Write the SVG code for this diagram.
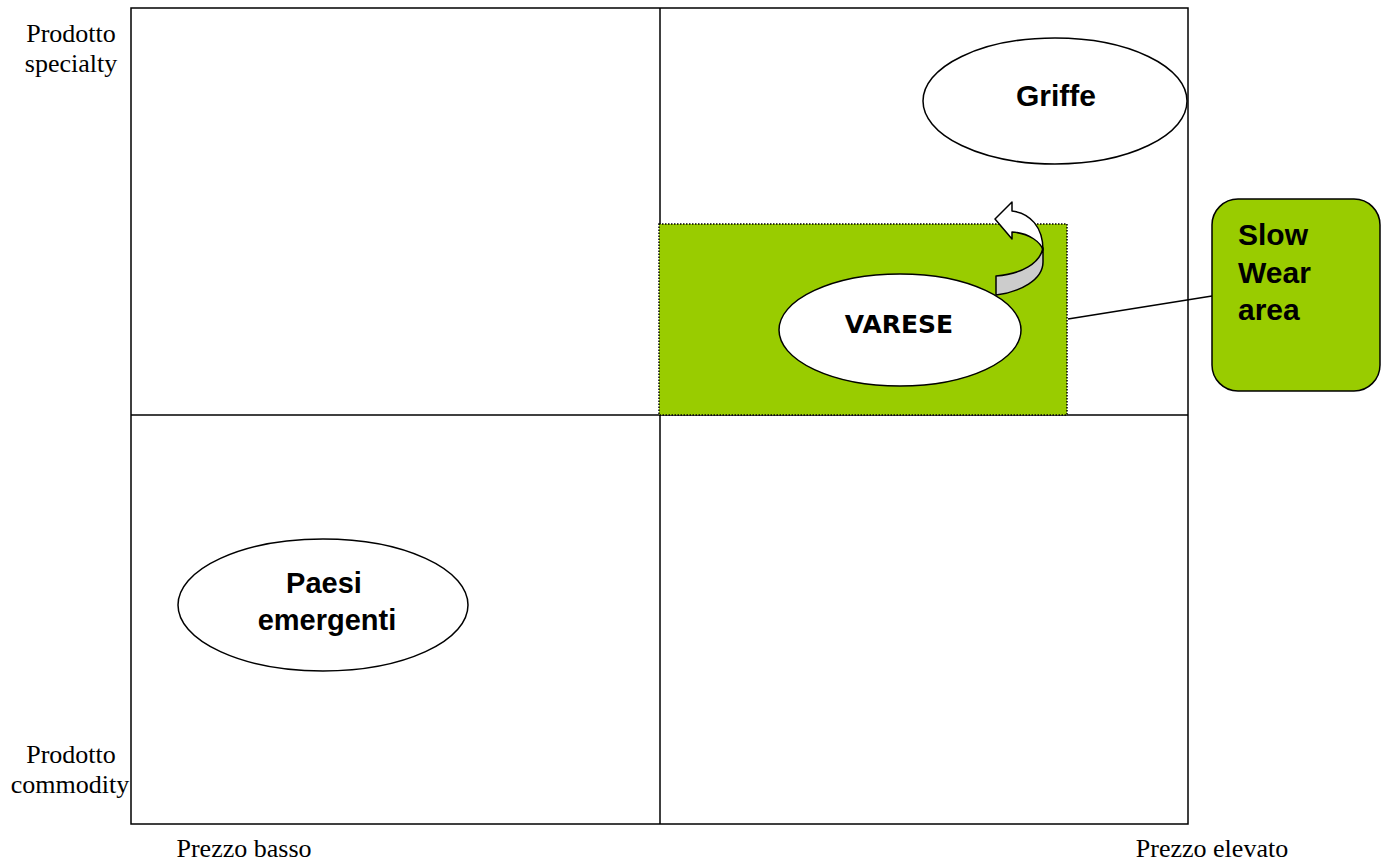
<svg xmlns="http://www.w3.org/2000/svg" width="1389" height="863" viewBox="0 0 1389 863">
<style>
.ax{fill:none;stroke:#000;stroke-width:1.5}
.ell{fill:#fff;stroke:#000;stroke-width:1.5}
.lbl{font-family:"Liberation Serif","Times New Roman",serif;font-size:26px;fill:#000;text-anchor:middle}
.b{font-family:"Liberation Sans",Arial,sans-serif;font-weight:bold;fill:#000}
</style>
<rect width="1389" height="863" fill="#fff"/>
<g id="grid">
<rect x="131" y="8" width="1057" height="816" class="ax"/>
<line x1="660" y1="8" x2="660" y2="824" class="ax"/>
<line x1="131" y1="415" x2="1188" y2="415" class="ax"/>
</g>
<g id="slow-wear-zone">
<rect x="659" y="224" width="408" height="191" fill="#99CC00" stroke="#000" stroke-width="1.5" stroke-dasharray="1.5 1.5"/>
</g>
<g id="arrow">
<path d="M996,276 C1022,274 1040,263 1043,248 L1043,262 C1043,280 1020,292 996,295 Z" fill="#CCCCCC" stroke="#000" stroke-width="1.5" stroke-linejoin="round"/>
<path d="M995,219 L1012,202 L1012,211 C1030,213 1043,227 1043,250 C1041,243 1030,233 1012,232 L1012,239 Z" fill="#fff" stroke="#000" stroke-width="1.5" stroke-linejoin="round"/>
</g>
<g id="griffe">
<ellipse cx="1055" cy="101" rx="132" ry="63" class="ell"/>
<text x="1056" y="106" class="b" font-size="30" text-anchor="middle">Griffe</text>
</g>
<g id="varese">
<ellipse cx="900" cy="330" rx="121" ry="56" class="ell"/>
<text x="899" y="333" font-family="'DejaVu Sans',Verdana,sans-serif" font-weight="bold" font-size="25" text-anchor="middle">VARESE</text>
</g>
<g id="paesi">
<ellipse cx="323" cy="605" rx="145" ry="66" class="ell"/>
<text class="b" font-size="29" text-anchor="middle"><tspan x="324" y="593">Paesi</tspan><tspan x="327" y="630">emergenti</tspan></text>
</g>
<g id="connectors">
<line x1="1068" y1="319" x2="1212" y2="296" stroke="#000" stroke-width="1.5"/>
</g>
<g id="slow-wear">
<rect x="1212" y="199" width="168" height="192" rx="26" ry="26" fill="#99CC00" stroke="#000" stroke-width="1.5"/>
<text class="b" font-size="30"><tspan x="1238" y="245">Slow</tspan><tspan x="1238" y="283">Wear</tspan><tspan x="1238" y="320">area</tspan></text>
</g>
<g id="labels">
<text class="lbl"><tspan x="71" y="42">Prodotto</tspan><tspan x="71" y="72">specialty</tspan></text>
<text class="lbl"><tspan x="71" y="763">Prodotto</tspan><tspan x="70" y="793">commodity</tspan></text>
<text x="244" y="857" class="lbl">Prezzo basso</text>
<text x="1212" y="857" class="lbl">Prezzo elevato</text>
</g>
</svg>
